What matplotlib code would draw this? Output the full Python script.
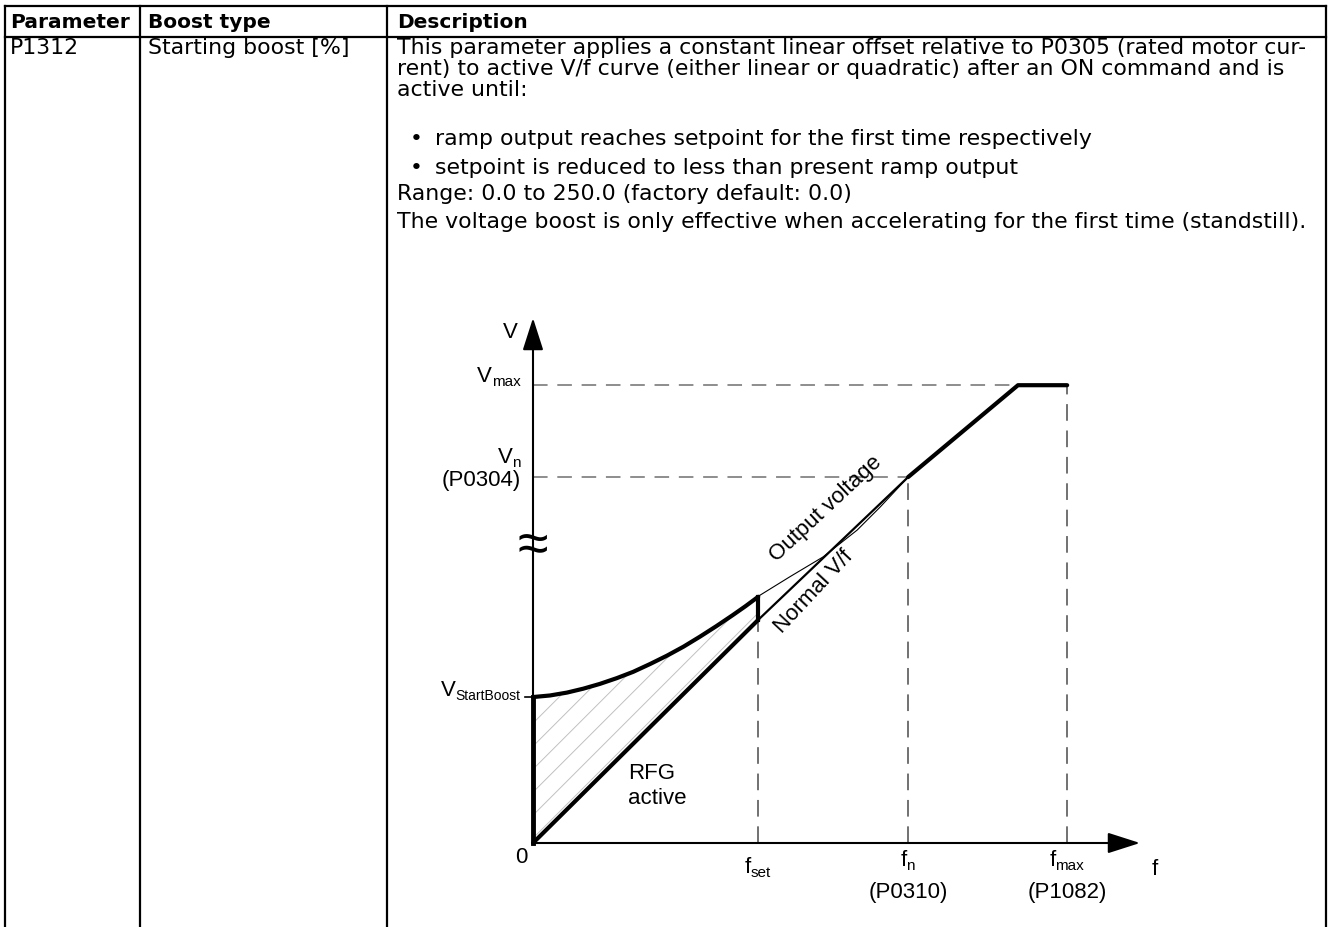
import matplotlib
matplotlib.use('Agg')
import matplotlib.pyplot as plt
import matplotlib.transforms as mtransforms
from matplotlib.lines import Line2D
from matplotlib.patches import Polygon
import numpy as np

plt.rcParams['font.family'] = ['Liberation Sans', 'DejaVu Sans']
plt.rcParams['lines.scale_dashes'] = False

# ---------------- table content ----------------
headers = ['Parameter', 'Boost type', 'Description']
parameter = 'P1312'
boost_type = 'Starting boost [%]'
desc_lines = [
    'This parameter applies a constant linear offset relative to P0305 (rated motor cur-',
    'rent) to active V/f curve (either linear or quadratic) after an ON command and is',
    'active until:',
]
bullets = [
    'ramp output reaches setpoint for the first time respectively',
    'setpoint is reduced to less than present ramp output',
]
range_text = 'Range: 0.0 to 250.0 (factory default: 0.0)'
note_text = 'The voltage boost is only effective when accelerating for the first time (standstill).'

# ---------------- diagram data (arbitrary units) ----------------
f_set, f_n, f_max = 37.1, 61.8, 88.0
v_boost, v_n, v_max = 27.8, 69.7, 87.2
normal_f = [0.0, 37.1, 61.8, 79.9, 88.0]
normal_v = [0.0, 42.5, 69.7, 87.2, 87.2]
boost_f = [0.0, 2.8, 5.6, 8.3, 11.0, 13.8, 16.5, 19.3, 22.1, 24.8, 27.5, 30.2, 32.9, 35.0, 37.1]
boost_v = [27.8, 28.1, 28.65, 29.4, 30.3, 31.4, 32.6, 34.1, 35.7, 37.4, 39.3, 41.3, 43.4, 45.1, 46.9]
out_f = [37.4, 42.3, 47.8, 53.4, 57.2, 61.8]
out_v = [47.2, 50.7, 54.5, 59.6, 64.0, 69.7]

W, H = 1330, 927
fig = plt.figure(figsize=(W / 100, H / 100), dpi=100)
renderer = fig.canvas.get_renderer()

# ---------------- table layer (pixel coordinates) ----------------
axt = fig.add_axes([0, 0, 1, 1])
axt.set_xlim(0, W)
axt.set_ylim(H, 0)
axt.axis('off')

lw_tab = 1.6
top_y, head_y = 6, 37
col_x = [5, 140, 387, 1326]
axt.plot([col_x[0], col_x[-1]], [top_y, top_y], color='k', lw=lw_tab)
axt.plot([col_x[0], col_x[-1]], [head_y, head_y], color='k', lw=lw_tab)
for x in col_x:
    axt.plot([x, x], [top_y, H + 5], color='k', lw=lw_tab)

tfam = 'DejaVu Sans'
fs = 15.8
fsh = 14.5
text_x = [10, 148, 397]
for x, h in zip(text_x, headers):
    axt.text(x, 22, h, fontsize=fsh, fontweight='bold', va='center', ha='left', family=tfam)
axt.text(text_x[0], 48, parameter, fontsize=fs, va='center', ha='left', family=tfam)
axt.text(text_x[1], 48, boost_type, fontsize=fs, va='center', ha='left', family=tfam)
for i, line in enumerate(desc_lines):
    axt.text(text_x[2], 48 + i * 20.8, line, fontsize=fs, va='center', ha='left', family=tfam)
for y, b in zip([139, 168], bullets):
    axt.text(410, y, '\u2022', fontsize=fs, va='center', ha='left', family=tfam)
    axt.text(435, y, b, fontsize=fs, va='center', ha='left', family=tfam)
axt.text(text_x[2], 194, range_text, fontsize=fs, va='center', ha='left', family=tfam)
axt.text(text_x[2], 222, note_text, fontsize=fs, va='center', ha='left', family=tfam)

# ---------------- diagram ----------------
ox, oy = 533, 843
xr, yr = 1140, 318
ax = fig.add_axes([ox / W, (H - oy) / H, (xr - ox) / W, (oy - yr) / H])
ax.set_xlim(0, 100)
ax.set_ylim(0, 100)
ax.axis('off')

thick = 3.0
arrow_kw = dict(arrowstyle='-|>,head_length=1.0,head_width=0.32', lw=1.5, color='k',
                shrinkA=0, shrinkB=0, mutation_scale=20)
ax.annotate('', xy=(0, 100), xytext=(0, 0), arrowprops=arrow_kw, annotation_clip=False)
ax.annotate('', xy=(100, 0), xytext=(0, 0), arrowprops=arrow_kw, annotation_clip=False)

hd = dict(color='#7a7a7a', lw=1.2, dashes=(10.5, 7), clip_on=False)
vd = dict(color='#4a4a4a', lw=1.1, dashes=(12, 7), clip_on=False)
ax.plot([0, f_max], [v_max, v_max], **hd)
ax.plot([0, f_n], [v_n, v_n], **hd)
ax.plot([f_set, f_set], [0, normal_v[1]], **vd)
ax.plot([f_n, f_n], [0, v_n], **vd)
ax.plot([f_max, f_max], [0, v_max], **vd)

# hatched area between boosted output and normal V/f
poly_pts = [(0.0, 0.0)] + list(zip(boost_f, boost_v)) + [(normal_f[1], normal_v[1])]
patch = Polygon(poly_pts, closed=True, facecolor='none', edgecolor='none')
ax.add_patch(patch)
disp = ax.transData.transform(poly_pts)
xmin, ymin = disp.min(axis=0)
xmax, ymax = disp.max(axis=0)
for c in np.arange(ymin - xmax, ymax - xmin, 23.0):
    xs = np.array([xmin - 10, xmax + 10])
    ln = Line2D(xs, xs + c, color='#c0c0c0', lw=0.7)
    ax.add_line(ln)
    ln.set_transform(mtransforms.IdentityTransform())
    ln.set_clip_path(patch)

ax.plot(normal_f[0:2], normal_v[0:2], color='k', lw=thick, solid_capstyle='round', clip_on=False)
ax.plot(normal_f[1:3], normal_v[1:3], color='k', lw=1.6, clip_on=False)
ax.plot(normal_f[2:], normal_v[2:], color='k', lw=thick, solid_capstyle='round', clip_on=False)
ax.plot([0, 0], [0, v_boost], color='k', lw=3.5, clip_on=False)
ax.plot(boost_f, boost_v, color='k', lw=thick, solid_capstyle='round', clip_on=False)
ax.plot([f_set, f_set], [normal_v[1], boost_v[-1]], color='k', lw=thick, clip_on=False)
ax.plot(out_f, out_v, color='k', lw=0.8, clip_on=False)
ax.plot([-1.3, 0], [v_boost, v_boost], color='k', lw=1.2, clip_on=False)

dfs = 16
sfs = 11


def sub_label(x, y, main, sub, ha='center', dy=-5.5, sub_fs=sfs):
    t1 = ax.text(x, y, main, fontsize=dfs, ha='left', va='center')
    t2 = ax.text(x, y, sub, fontsize=sub_fs, ha='left', va='center')
    w1 = t1.get_window_extent(renderer).width
    w2 = t2.get_window_extent(renderer).width
    total = w1 + w2
    shift = {'left': 0.0, 'center': -total / 2, 'right': -total}[ha]
    t1.set_transform(ax.transData + mtransforms.ScaledTranslation(shift / 100, 0, fig.dpi_scale_trans))
    t2.set_transform(ax.transData + mtransforms.ScaledTranslation((shift + w1 - 0.5) / 100, dy / 100,
                                                                 fig.dpi_scale_trans))


ax.text(-2.5, 97.3, 'V', fontsize=dfs, ha='right', va='center')
sub_label(-2.0, 88.8, 'V', 'max', ha='right')
sub_label(-2.0, 73.4, 'V', 'n', ha='right')
ax.text(-2.0, 69.0, '(P0304)', fontsize=dfs, ha='right', va='center')
sub_label(-2.0, 29.0, 'V', 'StartBoost', ha='right', sub_fs=10)
ax.text(-2.0, -2.8, '0', fontsize=dfs, ha='center', va='center')
ax.text(0, 56.2, '\u2248', fontsize=40, ha='center', va='center')
sub_label(f_set, -4.6, 'f', 'set', ha='center')
sub_label(f_n, -3.4, 'f', 'n', ha='center')
ax.text(f_n, -9.5, '(P0310)', fontsize=dfs, ha='center', va='center')
sub_label(f_max, -3.4, 'f', 'max', ha='center')
ax.text(f_max, -9.5, '(P1082)', fontsize=dfs, ha='center', va='center')
ax.text(102.5, -5.0, 'f', fontsize=dfs, ha='center', va='center')
ax.text(15.7, 13.3, 'RFG', fontsize=dfs, ha='left', va='center')
ax.text(15.7, 8.4, 'active', fontsize=dfs, ha='left', va='center')
ax.text(48.2, 63.6, 'Output voltage', fontsize=dfs, ha='center', va='center', rotation=43,
        rotation_mode='anchor')
ax.text(46.3, 47.8, 'Normal V/f', fontsize=dfs, ha='center', va='center', rotation=47,
        rotation_mode='anchor')

fig.savefig('out.png', dpi=100)
